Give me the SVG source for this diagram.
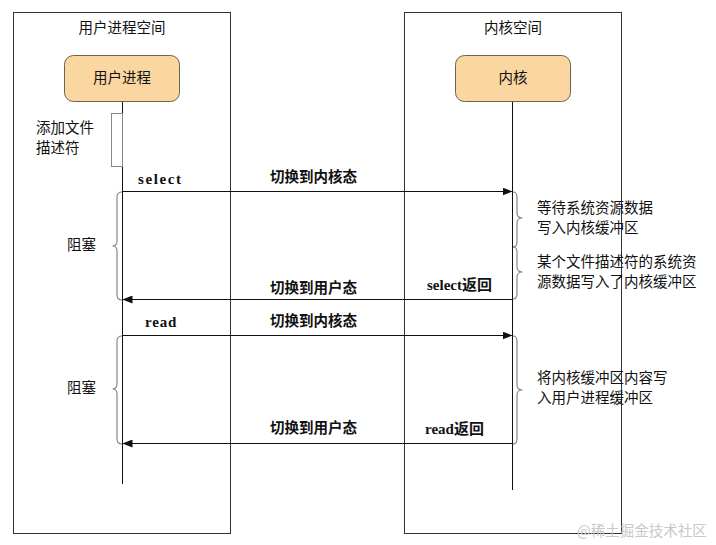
<svg xmlns="http://www.w3.org/2000/svg" width="716" height="545" viewBox="0 0 716 545">
<style>
.space{fill:#fff;stroke:#333;stroke-width:1}
.node{fill:#FAD7A0;stroke:#6E6251;stroke-width:1}
.cjk{font-family:"Noto Sans CJK SC","Noto Sans",sans-serif;font-size:14.5px;fill:#111}
.blab{font-family:"Noto Sans CJK SC",sans-serif;font-size:14.5px;font-weight:bold;fill:#111}
.call{font-family:"Liberation Serif","Noto Sans CJK SC",serif;font-size:15px;font-weight:bold;fill:#111}
.life{stroke:#111;stroke-width:1;fill:none}
.msg{stroke:#111;stroke-width:1;fill:none}
.brace{stroke:#888;stroke-width:1.2;fill:none}
.act{fill:#fff;stroke:#888;stroke-width:1}
</style>
<defs>
<marker id="ah" viewBox="0 0 10 8" refX="10" refY="4" markerWidth="10" markerHeight="8" markerUnits="userSpaceOnUse" orient="auto">
<path d="M0,0 L10,4 L0,8 Z" fill="#111"/>
</marker>
</defs>
<rect width="716" height="545" fill="#fff"/>

<g id="user-space">
<rect class="space" x="13.5" y="12.5" width="217" height="521"/>
<text class="cjk" x="122" y="33" text-anchor="middle">用户进程空间</text>
</g>
<g id="kernel-space">
<rect class="space" x="404.5" y="12.5" width="217" height="521"/>
<text class="cjk" x="513" y="33" text-anchor="middle">内核空间</text>
</g>

<g id="connectors">
<line class="life" x1="122.5" y1="101" x2="122.5" y2="484"/>
<line class="life" x1="512.5" y1="101" x2="512.5" y2="490"/>
<line class="msg" x1="122.5" y1="191.5" x2="512.5" y2="191.5" marker-end="url(#ah)"/>
<line class="msg" x1="512.5" y1="299.5" x2="122.5" y2="299.5" marker-end="url(#ah)"/>
<line class="msg" x1="122.5" y1="335.5" x2="512.5" y2="335.5" marker-end="url(#ah)"/>
<line class="msg" x1="512.5" y1="443.5" x2="122.5" y2="443.5" marker-end="url(#ah)"/>
</g>

<g id="user-process">
<rect class="node" x="64.5" y="55.5" width="115" height="46" rx="9"/>
<text class="cjk" x="122" y="83" text-anchor="middle">用户进程</text>
</g>
<g id="kernel">
<rect class="node" x="455.5" y="55.5" width="115" height="46" rx="9"/>
<text class="cjk" x="513" y="83" text-anchor="middle">内核</text>
</g>

<g id="add-fd">
<rect class="act" x="111.5" y="113.5" width="11" height="53"/>
<text class="cjk" x="36" y="133">添加文件</text>
<text class="cjk" x="36" y="153">描述符</text>
</g>

<g id="select-call">
<text class="call" x="138" y="184" letter-spacing="1.6">select</text>
<text class="blab" x="270" y="182">切换到内核态</text>
<text class="blab" x="270" y="293">切换到用户态</text>
<text class="call" x="427" y="290" font-size="14"><tspan>select</tspan><tspan font-family="Noto Sans CJK SC,sans-serif">返回</tspan></text>
</g>
<g id="read-call">
<text class="call" x="145" y="327" letter-spacing="0.8">read</text>
<text class="blab" x="270" y="326">切换到内核态</text>
<text class="blab" x="270" y="433">切换到用户态</text>
<text class="call" x="425" y="434" font-size="14"><tspan>read</tspan><tspan font-family="Noto Sans CJK SC,sans-serif">返回</tspan></text>
</g>

<g id="blocking-select">
<path class="brace" d="M122,192 Q117,192 117,197 L117,241 Q117,246 112.5,246 Q117,246 117,251 L117,295 Q117,300 122,300"/>
<text class="cjk" x="67" y="250">阻塞</text>
</g>
<g id="blocking-read">
<path class="brace" d="M122,336 Q117,336 117,341 L117,384 Q117,389 112.5,389 Q117,389 117,394 L117,439 Q117,444 122,444"/>
<text class="cjk" x="67" y="393">阻塞</text>
</g>

<g id="wait-data">
<path class="brace" d="M513,192 Q517,192 517,197 L517,213 Q517,218 522.5,218 Q517,218 517,223 L517,242 Q517,247 513,247"/>
<text class="cjk" x="537" y="213">等待系统资源数据</text>
<text class="cjk" x="537" y="233">写入内核缓冲区</text>
</g>
<g id="data-ready">
<path class="brace" d="M513,247 Q517,247 517,252 L517,267 Q517,272 522.5,272 Q517,272 517,277 L517,294 Q517,299 513,299"/>
<text class="cjk" x="537" y="267">某个文件描述符的系统资</text>
<text class="cjk" x="537" y="287">源数据写入了内核缓冲区</text>
</g>
<g id="copy-data">
<path class="brace" d="M513,336 Q517,336 517,341 L517,385 Q517,390 522.5,390 Q517,390 517,395 L517,439 Q517,444 513,444"/>
<text class="cjk" x="537" y="383">将内核缓冲区内容写</text>
<text class="cjk" x="537" y="403">入用户进程缓冲区</text>
</g>

<text x="577" y="536" font-family="Noto Sans CJK SC,sans-serif" font-size="14.5" fill="#c8c8c8">@稀土掘金技术社区</text>
</svg>
